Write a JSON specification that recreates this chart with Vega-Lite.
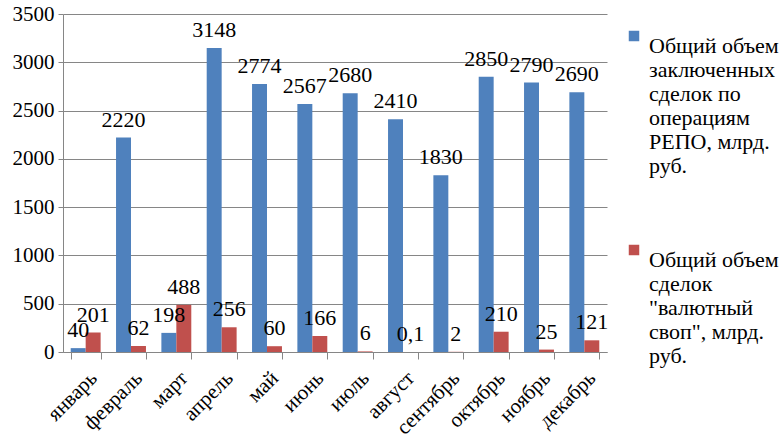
{
  "$schema": "https://vega.github.io/schema/vega-lite/v6.json",
  "width": 544,
  "height": 338,
  "autosize": "none",
  "padding": {"left": 63, "top": 14, "right": 175, "bottom": 88},
  "background": "white",
  "config": {
    "font": "'Liberation Serif', 'Times New Roman', 'DejaVu Serif', serif",
    "view": {"stroke": null},
    "axis": {"labelFont": "'Liberation Serif', 'Times New Roman', 'DejaVu Serif', serif"},
    "legend": {"labelFont": "'Liberation Serif', 'Times New Roman', 'DejaVu Serif', serif"},
    "text": {"font": "'Liberation Serif', 'Times New Roman', 'DejaVu Serif', serif"},
    "locale": {"number": {"decimal": ",", "thousands": "", "grouping": [3], "currency": ["", ""]}}
  },
  "data": {
    "values": [
      {"month": "январь", "series": "РЕПО", "value": 40},
      {"month": "февраль", "series": "РЕПО", "value": 2220},
      {"month": "март", "series": "РЕПО", "value": 198},
      {"month": "апрель", "series": "РЕПО", "value": 3148},
      {"month": "май", "series": "РЕПО", "value": 2774},
      {"month": "июнь", "series": "РЕПО", "value": 2567},
      {"month": "июль", "series": "РЕПО", "value": 2680},
      {"month": "август", "series": "РЕПО", "value": 2410},
      {"month": "сентябрь", "series": "РЕПО", "value": 1830},
      {"month": "октябрь", "series": "РЕПО", "value": 2850},
      {"month": "ноябрь", "series": "РЕПО", "value": 2790},
      {"month": "декабрь", "series": "РЕПО", "value": 2690},
      {"month": "январь", "series": "своп", "value": 201},
      {"month": "февраль", "series": "своп", "value": 62},
      {"month": "март", "series": "своп", "value": 488},
      {"month": "апрель", "series": "своп", "value": 256},
      {"month": "май", "series": "своп", "value": 60},
      {"month": "июнь", "series": "своп", "value": 166},
      {"month": "июль", "series": "своп", "value": 6},
      {"month": "август", "series": "своп", "value": 0.1},
      {"month": "сентябрь", "series": "своп", "value": 2},
      {"month": "октябрь", "series": "своп", "value": 210},
      {"month": "ноябрь", "series": "своп", "value": 25},
      {"month": "декабрь", "series": "своп", "value": 121}
    ]
  },
  "encoding": {
    "x": {
      "field": "month",
      "type": "nominal",
      "sort": ["январь", "февраль", "март", "апрель", "май", "июнь", "июль", "август", "сентябрь", "октябрь", "ноябрь", "декабрь"],
      "scale": {"paddingInner": 0.34, "paddingOuter": 0.17},
      "axis": {
        "title": null,
        "labelAngle": -45,
        "labelAlign": "right",
        "labelBaseline": "top",
        "labelFontSize": 21,
        "labelColor": "black",
        "labelPadding": 8,
        "domainColor": "#868686",
        "tickColor": "#868686",
        "tickSize": 7,
        "tickBand": "extent"
      }
    },
    "xOffset": {"field": "series", "type": "nominal", "sort": ["РЕПО", "своп"]},
    "y": {
      "field": "value",
      "type": "quantitative",
      "scale": {"domain": [0, 3500], "nice": false},
      "axis": {
        "title": null,
        "format": "d",
        "values": [0, 500, 1000, 1500, 2000, 2500, 3000, 3500],
        "labelFontSize": 21,
        "labelColor": "black",
        "labelPadding": 4,
        "gridColor": "#868686",
        "domainColor": "#868686",
        "tickColor": "#868686",
        "tickSize": 5
      }
    }
  },
  "layer": [
    {
      "mark": {"type": "bar", "stroke": null},
      "encoding": {
        "color": {
          "field": "series",
          "type": "nominal",
          "scale": {"domain": ["РЕПО", "своп"], "range": ["#4F81BD", "#C0504D"]},
          "legend": {
            "title": null,
            "orient": "none",
            "legendX": 560,
            "legendY": 11,
            "symbolType": "square",
            "symbolSize": 110,
            "symbolStrokeWidth": 0,
            "labelFontSize": 22,
            "labelColor": "black",
            "labelLimit": 300,
            "labelBaseline": "top",
            "labelOffset": 4,
            "labelLineHeight": 29,
            "rowPadding": 62,
            "labelExpr": "datum.label == 'РЕПО' ? ['Общий объем', 'заключенных', 'сделок по', 'операциям', 'РЕПО, млрд.', 'руб.'] : ['Общий объем', 'сделок', '\"валютный', 'своп\", млрд.', 'руб.']"
          }
        }
      }
    },
    {
      "mark": {"type": "text", "baseline": "bottom", "dy": -6, "fontSize": 22, "color": "black"},
      "encoding": {
        "text": {"field": "value", "type": "quantitative", "format": "~r"}
      }
    }
  ]
}
